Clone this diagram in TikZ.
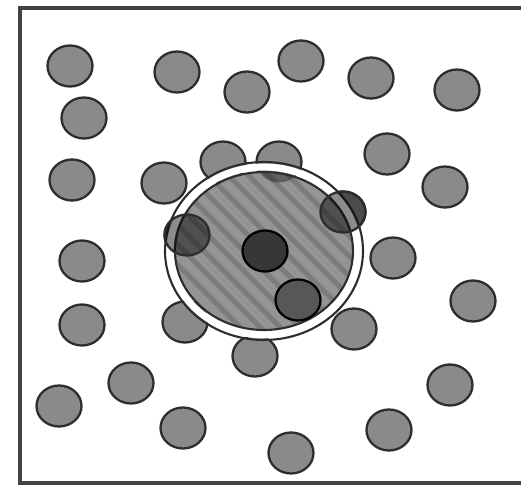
\documentclass[tikz,border=0pt]{standalone}
\usepackage{tikz}
\definecolor{dotgray}{RGB}{138,138,138}
\definecolor{edgegray}{RGB}{45,45,45}
\definecolor{diskgray}{RGB}{148,148,148}
\definecolor{stripegray}{RGB}{124,124,124}

\begin{document}
\begin{tikzpicture}[x=0.02cm, y=-0.02cm]
  \useasboundingbox (0,0) rectangle (521,486);
  % Frame, open on the right
  \draw[edgegray!90, line width=2.3pt] (530,8) -- (20,8) -- (20,483) -- (530,483);
  % Scattered dots
  \foreach \px/\py in {
      70/66,  177/72,  247/92,  301/61,  371/78,  457/90,
      84/118, 387/154, 72/180,  164/183, 223/162, 279/162,
      445/187, 343/212, 187/235, 82/261, 393/258, 473/301,
      82/325, 185/322, 354/329, 255/356, 131/383, 450/385,
      59/406, 183/428, 389/430, 291/453}
  { \draw[edgegray, line width=1.3pt, fill=dotgray] (\px,\py) ellipse (22.5 and 20.5); }
  % Ring round the cluster
  \draw[white, line width=4pt] (264,251) ellipse (94 and 84);
  \draw[edgegray, line width=1.2pt] (264,251) ellipse (99 and 89);
  % Hatched disk
  \fill[diskgray] (264,251) ellipse (89 and 79);
  \begin{scope}
    \clip (264,251) ellipse (89 and 79);
    \foreach \k in {-260,-240,...,260}
    { \draw[stripegray, line width=3pt] ({264+\k-120},131) -- ({264+\k+120},371); }
    % dot partly under the disk
    \fill[black, fill opacity=0.35] (279,162) ellipse (22.5 and 20.5);
  \end{scope}
  \draw[edgegray, line width=1.2pt] (264,251) ellipse (89 and 79);
  % Dots on the rim (darkened)
  \foreach \px/\py in {343/212, 187/235}
  { \draw[edgegray, line width=1.3pt, fill=black, fill opacity=0.45] (\px,\py) ellipse (22.5 and 20.5); }
  % Dots inside the disk
  \draw[black, line width=1.3pt, fill=edgegray!95] (265,251) ellipse (22.5 and 20.5);
  \draw[black, line width=1.3pt, fill=edgegray!80] (298,300) ellipse (22.5 and 20.5);
\end{tikzpicture}
\end{document}
